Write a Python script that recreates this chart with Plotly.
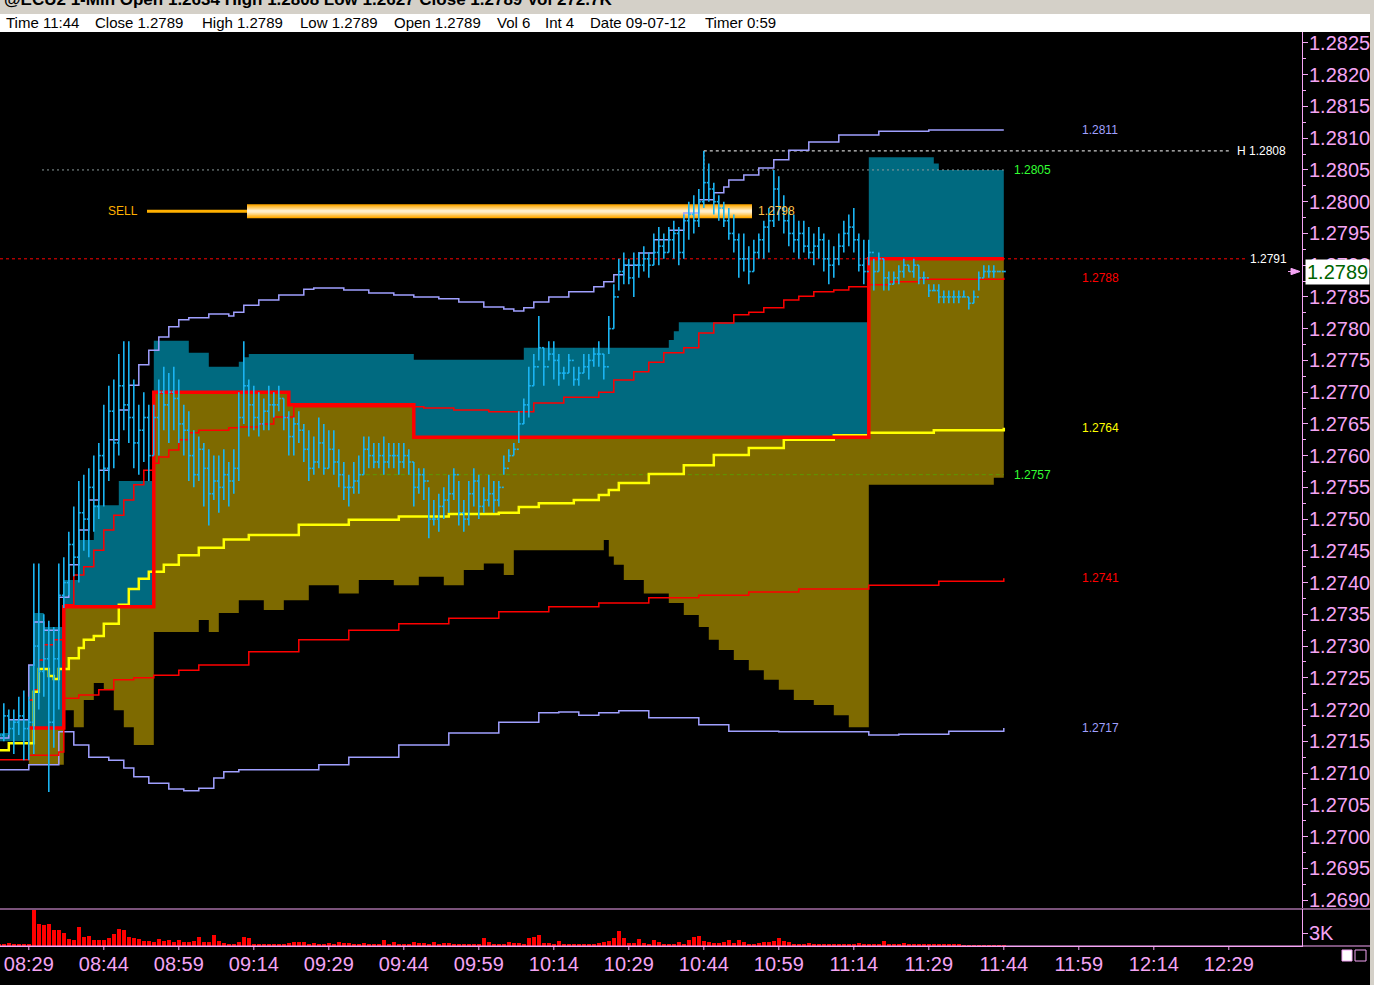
import plotly.graph_objects as go

def tm(s):
    h, m = s.split(":")
    return int(h) * 60 + float(m)

# ---------------- 1-minute price bars ----------------
BAR_START = "08:23"
FIRST_OPEN = 1.2717
highs = [
 1.2720,1.2721,1.2720,1.2720,1.2722,1.2723,1.2722,1.2743,1.2743,1.2735,
 1.2734,1.2733,1.2743,1.2744,1.2748,1.2752,1.2756,1.2757,1.2758,1.2760,
 1.2762,1.2768,1.2771,1.2772,1.2776,1.2778,1.2778,1.2772,1.2768,1.2770,
 1.2768,1.2768,1.2772,1.2774,1.2773,1.2774,1.2772,1.2768,1.2767,1.2764,
 1.2763,1.2762,1.2761,1.2760,1.2760,1.2761,1.2759,1.2761,1.2770,1.2778,
 1.2772,1.2771,1.2770,1.2769,1.2771,1.2770,1.2771,1.2769,1.2767,1.2766,
 1.2767,1.2765,1.2764,1.2763,1.2766,1.2765,1.2764,1.2764,1.2761,1.2759,
 1.2757,1.2759,1.2760,1.2763,1.2763,1.2762,1.2762,1.2763,1.2762,1.2762,
 1.2762,1.2762,1.2761,1.2759,1.2758,1.2758,1.2755,1.2753,1.2754,1.2755,
 1.2757,1.2758,1.2756,1.2753,1.2756,1.2758,1.2757,1.2755,1.2757,1.2756,
 1.2756,1.2760,1.2761,1.2762,1.2767,1.2769,1.2774,1.2776,1.2782,1.2777,
 1.2778,1.2778,1.2776,1.2774,1.2776,1.2774,1.2774,1.2776,1.2776,1.2777,
 1.2778,1.2776,1.2782,1.2787,1.2791,1.2792,1.2791,1.2792,1.2792,1.2793,
 1.2792,1.2795,1.2796,1.2795,1.2796,1.2797,1.2796,1.2798,1.2800,1.2801,
 1.2802,1.2808,1.2806,1.2803,1.2801,1.2800,1.2799,1.2798,1.2795,1.2795,
 1.2793,1.2794,1.2795,1.2797,1.2799,1.2805,1.2804,1.2801,1.2799,1.2798,
 1.2797,1.2797,1.2796,1.2795,1.2796,1.2795,1.2794,1.2793,1.2795,1.2797,
 1.2798,1.2799,1.2795,1.2794,1.2794,1.2791,1.2792,1.2791,1.2789,1.2789,
 1.2790,1.2791,1.2790,1.2791,1.2790,1.2789,1.2787,1.2787,1.2787,1.2786,
 1.2786,1.2786,1.2786,1.2786,1.2785,1.2786,1.2789,1.2790,1.2790,1.2790,
 1.2789,1.2789]
lows = [
 1.2714,1.2715,1.2716,1.2713,1.2716,1.2712,1.2712,1.2713,1.2720,1.2722,
 1.2707,1.2714,1.2720,1.2736,1.2738,1.2741,1.2740,1.2745,1.2744,1.2748,
 1.2750,1.2752,1.2756,1.2758,1.2760,1.2764,1.2762,1.2758,1.2757,1.2759,
 1.2756,1.2760,1.2760,1.2764,1.2762,1.2764,1.2762,1.2760,1.2756,1.2755,
 1.2756,1.2752,1.2749,1.2753,1.2751,1.2753,1.2752,1.2754,1.2756,1.2765,
 1.2763,1.2764,1.2763,1.2764,1.2764,1.2766,1.2767,1.2764,1.2760,1.2760,
 1.2762,1.2759,1.2756,1.2757,1.2758,1.2757,1.2758,1.2757,1.2755,1.2753,
 1.2752,1.2754,1.2754,1.2757,1.2758,1.2758,1.2758,1.2757,1.2758,1.2758,
 1.2757,1.2758,1.2757,1.2752,1.2754,1.2753,1.2747,1.2749,1.2748,1.2750,
 1.2751,1.2753,1.2749,1.2748,1.2749,1.2752,1.2750,1.2751,1.2752,1.2751,
 1.2752,1.2757,1.2759,1.2760,1.2762,1.2765,1.2766,1.2771,1.2775,1.2771,
 1.2775,1.2772,1.2771,1.2772,1.2773,1.2771,1.2771,1.2773,1.2772,1.2774,
 1.2774,1.2772,1.2776,1.2780,1.2786,1.2787,1.2787,1.2785,1.2788,1.2789,
 1.2788,1.2790,1.2790,1.2791,1.2792,1.2791,1.2790,1.2791,1.2794,1.2795,
 1.2796,1.2799,1.2800,1.2798,1.2797,1.2796,1.2794,1.2792,1.2788,1.2789,
 1.2787,1.2789,1.2791,1.2791,1.2792,1.2796,1.2797,1.2795,1.2793,1.2792,
 1.2791,1.2792,1.2791,1.2790,1.2791,1.2789,1.2787,1.2788,1.2790,1.2792,
 1.2793,1.2792,1.2789,1.2787,1.2790,1.2786,1.2789,1.2786,1.2786,1.2787,
 1.2787,1.2788,1.2789,1.2788,1.2787,1.2787,1.2785,1.2786,1.2784,1.2784,
 1.2784,1.2784,1.2784,1.2785,1.2783,1.2784,1.2786,1.2788,1.2788,1.2788,
 1.2789,1.2789]
closes = [
 1.2716,1.2719,1.2717,1.2718,1.2719,1.2717,1.2718,1.2730,1.2726,1.2728,
 1.2718,1.2728,1.2738,1.2740,1.2746,1.2744,1.2751,1.2750,1.2755,1.2752,
 1.2760,1.2758,1.2767,1.2762,1.2771,1.2768,1.2766,1.2762,1.2764,1.2766,
 1.2760,1.2766,1.2770,1.2768,1.2770,1.2769,1.2765,1.2764,1.2760,1.2757,
 1.2761,1.2758,1.2754,1.2756,1.2755,1.2757,1.2756,1.2758,1.2766,1.2771,
 1.2768,1.2766,1.2765,1.2767,1.2768,1.2768,1.2769,1.2766,1.2763,1.2765,
 1.2764,1.2761,1.2758,1.2759,1.2762,1.2758,1.2761,1.2759,1.2757,1.2755,
 1.2755,1.2756,1.2757,1.2761,1.2760,1.2759,1.2760,1.2759,1.2760,1.2760,
 1.2759,1.2760,1.2759,1.2755,1.2757,1.2756,1.2750,1.2750,1.2752,1.2753,
 1.2754,1.2757,1.2751,1.2750,1.2754,1.2756,1.2752,1.2753,1.2754,1.2753,
 1.2755,1.2758,1.2760,1.2761,1.2765,1.2768,1.2771,1.2774,1.2777,1.2774,
 1.2776,1.2775,1.2773,1.2773,1.2775,1.2772,1.2773,1.2774,1.2775,1.2776,
 1.2776,1.2774,1.2780,1.2785,1.2789,1.2790,1.2788,1.2790,1.2790,1.2791,
 1.2790,1.2792,1.2793,1.2792,1.2794,1.2795,1.2792,1.2797,1.2798,1.2797,
 1.2800,1.2803,1.2802,1.2800,1.2799,1.2797,1.2795,1.2794,1.2791,1.2791,
 1.2789,1.2792,1.2794,1.2796,1.2797,1.2802,1.2799,1.2797,1.2795,1.2794,
 1.2795,1.2793,1.2792,1.2793,1.2794,1.2791,1.2790,1.2791,1.2793,1.2795,
 1.2796,1.2794,1.2790,1.2789,1.2792,1.2789,1.2791,1.2788,1.2787,1.2788,
 1.2789,1.2790,1.2789,1.2790,1.2788,1.2788,1.2786,1.2786,1.2785,1.2785,
 1.2785,1.2785,1.2785,1.2785,1.2784,1.2785,1.2788,1.2789,1.2789,1.2789,
 1.2789,1.2789]
volumes = [
 390,530,690,390,460,390,460,8280,
 5060,4830,5060,3680,3680,2990,1610,1450,
 4370,2070,2300,1380,1380,1380,1840,2760,3910,3680,
 2070,1840,1610,1080,1150,990,1610,1150,1380,850,
 1380,990,990,1220,2070,990,990,2530,1080,760,
 530,530,990,2070,1910,530,
 530,530,390,530,390,530,760,920,920,920,
 530,760,530,530,760,530,920,760,760,530,
 530,760,530,390,530,1380,530,920,530,530,
 530,920,690,690,530,990,530,690,760,530,
 390,530,530,530,530,1840,
 920,390,390,530,990,760,760,530,1840,2070,2530,
 760,760,530,1220,390,390,530,390,530,530,
 530,760,990,1220,1910,3450,
 1840,760,760,1610,760,530,1380,920,530,530,530,920,
 530,1380,2070,2370,
 1150,920,760,760,920,1380,760,1380,920,530,530,760,920,
 920,1150,1910,
 1150,920,530,530,390,760,390,390,530,390,390,530,530,390,390,760,530,530,390,390,
 1150,
 530,390,530,690,390,390,530,390,390,530,390,390,390,390,390,230,230,230,230,230,230,230,230,230]

# ---------------- value-area profile boundaries ----------------
split_t = ["08:23","08:29","08:36","08:54","09:21","09:46","11:17","11:44"]
split_v = [1.27150,1.27171,1.27362,1.27700,1.27680,1.27629,1.27910,1.27910]

teal_top_t = ["08:23","08:25","08:29","08:30","08:32","08:36","08:39","08:42","08:47","08:54",
              "09:01","09:05","09:11","09:12","09:13","09:46","10:08","10:37","10:38","10:39",
              "11:17","11:30","11:31","11:44"]
teal_top_v = [1.27163,1.27184,1.27270,1.27352,1.27330,1.27404,1.27467,1.27522,1.27560,1.27781,
              1.27762,1.27740,1.27748,1.27755,1.27760,1.27751,1.27770,1.27782,1.27796,1.27810,
              1.28070,1.28060,1.28050,1.28050]

olive_bot_t = ["08:23","08:29","08:36","08:38","08:40","08:42","08:44","08:46","08:48","08:50",
               "08:54","09:03","09:05","09:07","09:11","09:16","09:20","09:25","09:31","09:35",
               "09:42","09:47","09:52","09:56","10:00","10:04","10:06","10:24","10:25","10:26",
               "10:28","10:32","10:37","10:40","10:43","10:45","10:47","10:50","10:53","10:56",
               "10:59","11:02","11:06","11:10","11:13","11:17","11:42","11:44"]
olive_bot_v = [1.27150,1.27113,1.27199,1.27172,1.27215,1.27242,1.27231,1.27199,1.27172,1.27144,
               1.27322,1.27341,1.27322,1.27352,1.27372,1.27357,1.27372,1.27396,1.27383,1.27404,
               1.27396,1.27409,1.27396,1.27420,1.27430,1.27412,1.27451,1.27467,1.27441,1.27428,
               1.27404,1.27383,1.27368,1.27349,1.27330,1.27310,1.27294,1.27278,1.27262,1.27247,
               1.27231,1.27215,1.27207,1.27191,1.27172,1.27554,1.27565,1.27565]

# ---------------- indicator lines ----------------
band_up_t = ["08:23","08:25","08:29","08:30","08:32","08:35","08:37","08:39","08:41","08:43",
             "08:45","08:47","08:49","08:51","08:53","08:55","08:57","08:59","09:01","09:05",
             "09:09","09:10","09:12","09:15","09:19","09:24","09:26","09:32","09:37","09:42",
             "09:46","09:51","09:55","10:00","10:04","10:06","10:08","10:10","10:13","10:17",
             "10:22","10:24","10:26","10:28","10:31","10:34","10:37","10:40","10:43","10:46",
             "10:48","10:49","10:52","10:55","10:58","11:01","11:05","11:11","11:19","11:29","11:44"]
band_up_v = [1.27155,1.27184,1.27270,1.27338,1.27325,1.27377,1.27428,1.27483,1.27530,1.27577,
             1.27625,1.27672,1.27711,1.27743,1.27766,1.27787,1.27803,1.27814,1.27817,1.27823,
             1.27820,1.27826,1.27837,1.27845,1.27853,1.27862,1.27864,1.27861,1.27856,1.27853,
             1.27850,1.27847,1.27842,1.27834,1.27831,1.27828,1.27833,1.27842,1.27850,1.27858,
             1.27866,1.27874,1.27885,1.27900,1.27919,1.27940,1.27955,1.27982,1.28003,1.28014,
             1.28023,1.28034,1.28042,1.28053,1.28066,1.28081,1.28094,1.28105,1.28111,1.28113,1.28113]

band_lo_t = ["08:23","08:29","08:35","08:38","08:41","08:45","08:48","08:50","08:53","08:57",
             "09:00","09:03","09:06","09:08","09:11","09:21","09:27","09:33","09:43","09:53",
             "10:03","10:11","10:15","10:19","10:23","10:27","10:33","10:43","10:49","10:59",
             "11:17","11:23","11:33","11:44"]
band_lo_v = [1.27105,1.27113,1.27165,1.27144,1.27125,1.27120,1.27108,1.27094,1.27084,1.27075,
             1.27072,1.27076,1.27092,1.27102,1.27105,1.27105,1.27113,1.27125,1.27144,1.27163,
             1.27180,1.27195,1.27196,1.27191,1.27195,1.27198,1.27187,1.27176,1.27166,1.27165,
             1.27160,1.27161,1.27166,1.27171]

red_up_t = ["08:29","08:30","08:31","08:32","08:34","08:36","08:38","08:40","08:42","08:44",
            "08:46","08:48","08:50","08:52","08:54","08:55","08:57","08:59","09:01","09:03",
            "09:09","09:11","09:15","09:18","09:22","09:33","09:48","09:54","10:01","10:07",
            "10:10","10:16","10:23","10:26","10:30","10:33","10:36","10:40","10:43","10:46",
            "10:50","10:53","10:56","11:00","11:03","11:06","11:10","11:13","11:17","11:21",
            "11:27","11:44"]
red_up_v = [1.27215,1.27231,1.27278,1.27302,1.27310,1.27365,1.27412,1.27425,1.27451,1.27483,
            1.27506,1.27530,1.27554,1.27577,1.27588,1.27598,1.27609,1.27625,1.27636,1.27640,
            1.27644,1.27645,1.27650,1.27661,1.27677,1.27677,1.27675,1.27672,1.27669,1.27669,
            1.27683,1.27692,1.27700,1.27719,1.27732,1.27747,1.27762,1.27770,1.27793,1.27809,
            1.27822,1.27826,1.27833,1.27845,1.27851,1.27858,1.27861,1.27866,1.27869,1.27874,
            1.27878,1.27880]

red_lo_t = ["08:23","08:29","08:35","08:36","08:39","08:43","08:46","08:50","08:54","08:59",
            "09:03","09:13","09:23","09:33","09:43","09:53","10:03","10:13","10:23","10:33",
            "10:43","10:53","11:03","11:17","11:31","11:44"]
red_lo_v = [1.27121,1.27128,1.27133,1.27218,1.27223,1.27231,1.27247,1.27250,1.27254,1.27262,
            1.27270,1.27291,1.27310,1.27325,1.27335,1.27344,1.27354,1.27362,1.27368,1.27376,
            1.27380,1.27385,1.27390,1.27396,1.27402,1.27407]

vwap_t = ["08:23","08:25","08:30","08:31","08:33","08:34","08:35","08:37","08:39","08:40",
          "08:42","08:44","08:47","08:49","08:51","08:53","08:56","08:59","09:03","09:08",
          "09:13","09:23","09:33","09:43","09:53","10:03","10:07","10:11","10:18","10:23",
          "10:25","10:27","10:33","10:40","10:46","10:53","11:00","11:10","11:17","11:30","11:44"]
vwap_v = [1.27136,1.27147,1.27228,1.27264,1.27253,1.27248,1.27264,1.27281,1.27297,1.27310,
          1.27316,1.27335,1.27365,1.27390,1.27406,1.27417,1.27428,1.27443,1.27455,1.27468,
          1.27475,1.27491,1.27499,1.27504,1.27508,1.27510,1.27519,1.27525,1.27530,1.27538,
          1.27546,1.27557,1.27571,1.27585,1.27601,1.27612,1.27625,1.27632,1.27636,1.27640,1.27644]

# horizontal reference levels
LEVEL_HIGH = 1.2808      # session high
LEVEL_VA_HIGH = 1.2805   # value-area high
LEVEL_VA_LOW = 1.2757    # value-area low
LEVEL_RED = 1.2791
SELL_LEVEL = 1.2798

price_tick_labels = ["1.2690","1.2695","1.2700","1.2705","1.2710","1.2715","1.2720","1.2725",
                     "1.2730","1.2735","1.2740","1.2745","1.2750","1.2755","1.2760","1.2765",
                     "1.2770","1.2775","1.2780","1.2785","1.2790","1.2795","1.2800","1.2805",
                     "1.2810","1.2815","1.2820","1.2825"]
time_tick_labels = ["08:29","08:44","08:59","09:14","09:29","09:44","09:59","10:14","10:29",
                    "10:44","10:59","11:14","11:29","11:44","11:59","12:14","12:29"]
LAST_PRICE = 1.2789

title_text = "@ECU2 1-Min Open 1.2634 High 1.2808 Low 1.2627 Close 1.2789 Vol 272.7K"
info_fields = ["Time 11:44", "Close 1.2789", "High 1.2789", "Low 1.2789", "Open 1.2789",
               "Vol 6", "Int 4", "Date 09-07-12", "Timer 0:59"]

# ---------------- styling / layout constants ----------------
PINK = "#f4a4f4"
CYAN = "#1ab4f2"
TEAL = "#006a80"
OLIVE = "#7e6a00"
LAV = "#a0a0ff"
RED = "#ff0000"
YELLOW = "#ffff00"
W, H = 1374, 985
ML, MR, MT, MB = 0, 72, 32, 39
PW = W - ML - MR          # 1302
PH = H - MT - MB          # 914
X0 = 503.24               # minute value at left edge
XMAX = X0 + PW / 5.0
P_LO, P_HI = 1.268874, 1.282673
V_MAX = 8540
LABEL_FONT = "Liberation Sans Narrow, Arial Narrow, Liberation Sans, sans-serif"
AX_FONT = "Liberation Sans, Arial, sans-serif"

def px_x(px):    # pixel -> minute value
    return X0 + px / 5.0

def pap_x(px):
    return (px - ML) / PW

def pap_y(py):
    return (MT + PH - py) / PH

def T(lst):
    return [tm(s) for s in lst]

fig = go.Figure()

def line(x, y, color, width, dash=None, shape="hv", fill=None, fillcolor=None):
    fig.add_trace(go.Scatter(x=x, y=y, mode="lines",
                             line=dict(color=color, width=width, dash=dash, shape=shape),
                             fill=fill, fillcolor=fillcolor, hoverinfo="skip", showlegend=False))

# value area fills
line(T(split_t), split_v, "rgba(0,0,0,0)", 0)
line(T(teal_top_t), teal_top_v, "rgba(0,0,0,0)", 0, fill="tonexty", fillcolor=TEAL)
line(T(olive_bot_t), olive_bot_v, "rgba(0,0,0,0)", 0)
line(T(split_t), split_v, "rgba(0,0,0,0)", 0, fill="tonexty", fillcolor=OLIVE)

# reference levels
line([px_x(42), tm("11:44")], [LEVEL_VA_HIGH] * 2, "#8c9c9c", 1, dash="2px,3px", shape="linear")
line([tm("10:44"), px_x(1230)], [LEVEL_HIGH] * 2, "#ffffff", 1, dash="3px,3px", shape="linear")
line([tm("10:44"), tm("10:44")], [LEVEL_HIGH, LEVEL_VA_HIGH], "#ffffff", 1, dash="2px,2px", shape="linear")
line([px_x(0), px_x(1245)], [LEVEL_RED] * 2, RED, 1, dash="3px,3px", shape="linear")
line([tm("09:35"), tm("11:44")], [LEVEL_VA_LOW] * 2, "#5c9a00", 1, dash="4px,3px", shape="linear")

# bands and averages
line(T(band_up_t), band_up_v, LAV, 1.5)
line(T(band_lo_t), band_lo_v, LAV, 1.5)
line(T(red_lo_t), red_lo_v, RED, 1.5)
line(T(red_up_t), red_up_v, RED, 1.5)
line(T(vwap_t), vwap_v, YELLOW, 2.5)
line(T(split_t[1:]), split_v[1:], RED, 3.5)

# SELL order line
line([px_x(147), px_x(247)], [SELL_LEVEL + 0.00005] * 2, "#ffb000", 3, shape="linear")

# OHLC bars drawn as segments
n = min(len(highs), len(lows), len(closes))
t0 = tm(BAR_START)
bar_t = [t0 + i for i in range(n)]
opens = [FIRST_OPEN] + closes[:n - 1]
TICK = 0.4
ox, oy = [], []
for t, o, hi, lo, c in zip(bar_t, opens, highs, lows, closes):
    ox += [t, t, None, t - TICK, t, None, t, t + TICK, None]
    oy += [lo, hi, None, o, o, None, c, c, None]
fig.add_trace(go.Scatter(x=ox, y=oy, mode="lines", line=dict(color=CYAN, width=1.6),
                         hoverinfo="skip", showlegend=False))

# volume
nv = min(len(volumes), n)
fig.add_trace(go.Bar(x=bar_t[:nv], y=volumes[:nv], yaxis="y2", marker=dict(color=RED, line=dict(width=0)),
                     width=0.7, hoverinfo="skip", showlegend=False))

shapes = []
# SELL gradient bar: nested rectangles, dark edges -> light centre
grad = ["#ffa800", "#ffb626", "#ffc550", "#ffd47c", "#ffe2a6", "#ffeec8"]
hh = 0.00022
yc = SELL_LEVEL + 0.00005
for i, col in enumerate(grad):
    half = hh / 2 * (1 - i / len(grad))
    shapes.append(dict(type="rect", xref="x", yref="y", x0=px_x(247), x1=px_x(752),
                       y0=yc - half, y1=yc + half,
                       fillcolor=col, line=dict(width=0), layer="below"))
# frame pieces
shapes += [
    dict(type="rect", xref="paper", yref="paper", x0=pap_x(-5), x1=pap_x(W + 5), y0=pap_y(14), y1=pap_y(-5),
         fillcolor="#d4d0c8", line=dict(width=0)),
    dict(type="rect", xref="paper", yref="paper", x0=pap_x(-5), x1=pap_x(1370), y0=pap_y(32), y1=pap_y(14),
         fillcolor="#ffffff", line=dict(width=0)),
    dict(type="rect", xref="paper", yref="paper", x0=pap_x(1370), x1=pap_x(W + 5), y0=pap_y(H + 5), y1=pap_y(14),
         fillcolor="#d4d0c8", line=dict(width=0)),
    dict(type="line", xref="paper", yref="paper", x0=0, x1=pap_x(1370), y0=pap_y(909), y1=pap_y(909),
         line=dict(color=PINK, width=1)),
    dict(type="line", xref="paper", yref="paper", x0=0, x1=pap_x(1370), y0=pap_y(946), y1=pap_y(946),
         line=dict(color=PINK, width=1)),
    dict(type="rect", xref="paper", yref="paper", x0=pap_x(1342), x1=pap_x(1352), y0=pap_y(961), y1=pap_y(950),
         fillcolor="#ffffff", line=dict(color=PINK, width=1)),
    dict(type="rect", xref="paper", yref="paper", x0=pap_x(1355), x1=pap_x(1366), y0=pap_y(961), y1=pap_y(950),
         fillcolor="rgba(0,0,0,0)", line=dict(color=PINK, width=1)),
]
# time-axis tick marks
time_vals = [tm(s) for s in time_tick_labels]
for tv in time_vals:
    shapes.append(dict(type="line", xref="x", yref="paper", x0=tv, x1=tv, y0=pap_y(946), y1=pap_y(950),
                       line=dict(color=PINK, width=1)))
# last price arrow
ax1, ax2 = pap_x(1291), pap_x(1300)
shapes.append(dict(type="path", xref="paper", yref="y",
                   path=f"M {ax2},{LAST_PRICE} L {ax1},{LAST_PRICE + 0.00005} L {ax1},{LAST_PRICE - 0.00005} Z",
                   fillcolor=PINK, line=dict(color=PINK, width=1)))
shapes.append(dict(type="line", xref="paper", yref="y", x0=pap_x(1288), x1=pap_x(1300),
                   y0=LAST_PRICE, y1=LAST_PRICE, line=dict(color=PINK, width=1)))

ann = []
def lab(text, px, price, color, size=12, family=LABEL_FONT):
    ann.append(dict(text=text, x=px_x(px), y=price, xref="x", yref="y", showarrow=False,
                    xanchor="left", yanchor="middle", font=dict(family=family, size=size, color=color)))

fmt = lambda v: f"{v:.4f}"
lab(fmt(band_up_v[-1]), 1080, band_up_v[-1], LAV)
lab("H " + fmt(LEVEL_HIGH), 1235, LEVEL_HIGH, "#ffffff")
lab(fmt(LEVEL_VA_HIGH), 1012, LEVEL_VA_HIGH, "#33ff33")
lab(fmt(LEVEL_RED), 1248, LEVEL_RED, "#ffffff")
lab(fmt(red_up_v[-1]), 1080, red_up_v[-1], RED)
lab(fmt(vwap_v[-1]), 1080, vwap_v[-1], YELLOW)
lab(fmt(LEVEL_VA_LOW), 1012, LEVEL_VA_LOW, "#33ff33")
lab(fmt(red_lo_v[-1]), 1080, red_lo_v[-1], RED)
lab(fmt(band_lo_v[-1]), 1080, band_lo_v[-1], LAV)
lab(fmt(SELL_LEVEL), 756, SELL_LEVEL + 0.00005, "#ffc24a")
lab("SELL", 106, SELL_LEVEL + 0.00005, "#ffb000")

# last price box
ann.append(dict(text=fmt(LAST_PRICE), x=pap_x(1305), y=LAST_PRICE, xref="paper", yref="y",
                showarrow=False, xanchor="left", yanchor="middle", bgcolor="#ffffff", borderpad=1,
                font=dict(family=AX_FONT, size=20, color="#006400")))
# header texts
ann.append(dict(text="<b>" + title_text + "</b>", x=pap_x(2), y=pap_y(11), xref="paper", yref="paper",
                showarrow=False, xanchor="left", yanchor="bottom",
                font=dict(family=AX_FONT, size=17, color="#000000")))
info_px = [4, 93, 200, 298, 392, 495, 543, 588, 703]
for txt, px in zip(info_fields, info_px):
    ann.append(dict(text=txt, x=pap_x(px), y=pap_y(23), xref="paper", yref="paper", showarrow=False,
                    xanchor="left", yanchor="middle",
                    font=dict(family=AX_FONT, size=15, color="#000000")))

price_vals = [float(s) for s in price_tick_labels]

fig.update_layout(
    width=W, height=H, margin=dict(l=ML, r=MR, t=MT, b=MB),
    paper_bgcolor="#000000", plot_bgcolor="#000000", showlegend=False,
    bargap=0, shapes=shapes, annotations=ann, hovermode=False,
    xaxis=dict(range=[X0, XMAX], tickvals=time_vals, ticktext=time_tick_labels,
               ticks="", showline=True, linecolor=PINK,
               showgrid=False, zeroline=False, anchor="y2",
               tickfont=dict(family=AX_FONT, size=20, color=PINK),
               rangeslider=dict(visible=False)),
    yaxis=dict(domain=[(H - MB - 908) / PH, 1], range=[P_LO, P_HI], side="right",
               tickvals=price_vals, ticktext=price_tick_labels, ticks="outside", ticklen=5,
               ticklabelstandoff=-3,
               tickcolor=PINK, showline=True, linecolor=PINK, showgrid=False, zeroline=False,
               minor=dict(tickmode="linear", tick0=1.26875, dtick=0.0005, ticks="outside",
                          ticklen=3, tickcolor=PINK),
               tickfont=dict(family=AX_FONT, size=20, color=PINK)),
    yaxis2=dict(domain=[0, 37 / PH], range=[0, V_MAX], side="right", anchor="x",
                tickvals=[3000], ticktext=["3K"], ticks="outside", ticklen=5, tickcolor=PINK,
                ticklabelstandoff=-3,
                showline=True, linecolor=PINK, showgrid=False, zeroline=False,
                tickfont=dict(family=AX_FONT, size=20, color=PINK)),
)

fig.write_html("out.html", config={"displayModeBar": False},
               post_script="document.body.style.margin='0px';document.body.style.background='#000000';")
